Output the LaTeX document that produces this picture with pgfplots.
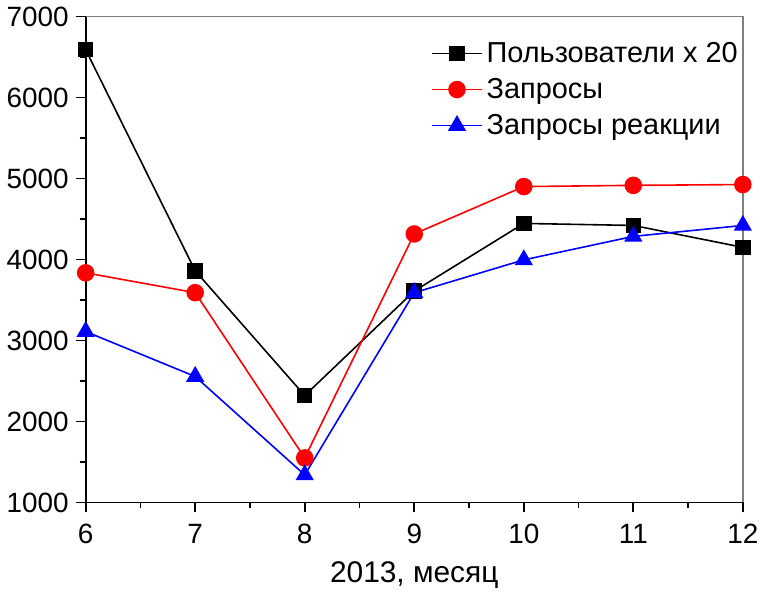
\documentclass[border=0pt]{standalone}
\usepackage{pgfplots}
\pgfplotsset{compat=1.18}
\usepackage{fontspec}
\setmainfont{Liberation Sans}
\begin{document}
\begin{tikzpicture}
\begin{axis}[
    scale only axis,
    width=330pt, height=244pt,
    xmin=6, xmax=12, ymin=1000, ymax=7000,
    xtick={6,...,12}, ytick={1000,2000,...,7000},
    minor x tick num=1, minor y tick num=1,
    axis lines*=left,
    axis line style={-, line width=0.9pt},
    tick align=outside,
    major tick length=5pt, minor tick length=3pt,
    tick style={black, line width=0.9pt},
    /pgf/number format/assume math mode=true,
    /pgf/number format/1000 sep={},
    tick label style={font=\fontsize{14}{16}\selectfont},
    x tick label style={yshift=-2.5pt},
    xlabel={2013, месяц},
    xlabel style={font=\fontsize{15}{17}\selectfont,
        at={(axis description cs:0.5,0)}, anchor=base, yshift=-40pt},
    clip=false,
    legend style={at={(1.008,0.965)}, anchor=north east, draw=none, fill=none,
        font=\fontsize{14.5}{16}\selectfont, row sep=2.5pt,
        /tikz/every even column/.append style={column sep=3pt}},
    legend image code/.code={
        \draw[mark repeat=2,mark phase=2] plot coordinates {(0pt,0pt) (12.5pt,0pt) (25pt,0pt)};},
    legend cell align=left,
]
\draw[gray, line width=0.9pt] (rel axis cs:0,1) -- (rel axis cs:1,1) -- (rel axis cs:1,0);
\addplot[black, line width=0.8pt, mark=square*, mark size=3.5pt] coordinates {
    (6,6590) (7,3860) (8,2320) (9,3610) (10,4445) (11,4420) (12,4150)};
\addplot[red, line width=0.8pt, mark=*, mark size=4pt] coordinates {
    (6,3835) (7,3590) (8,1550) (9,4315) (10,4900) (11,4915) (12,4925)};
\addplot[blue, line width=0.8pt, mark=triangle*, mark size=4.5pt] coordinates {
    (6,3110) (7,2555) (8,1340) (9,3590) (10,3995) (11,4285) (12,4420)};
\legend{Пользователи x 20, Запросы, Запросы реакции}
\end{axis}
\end{tikzpicture}
\end{document}
